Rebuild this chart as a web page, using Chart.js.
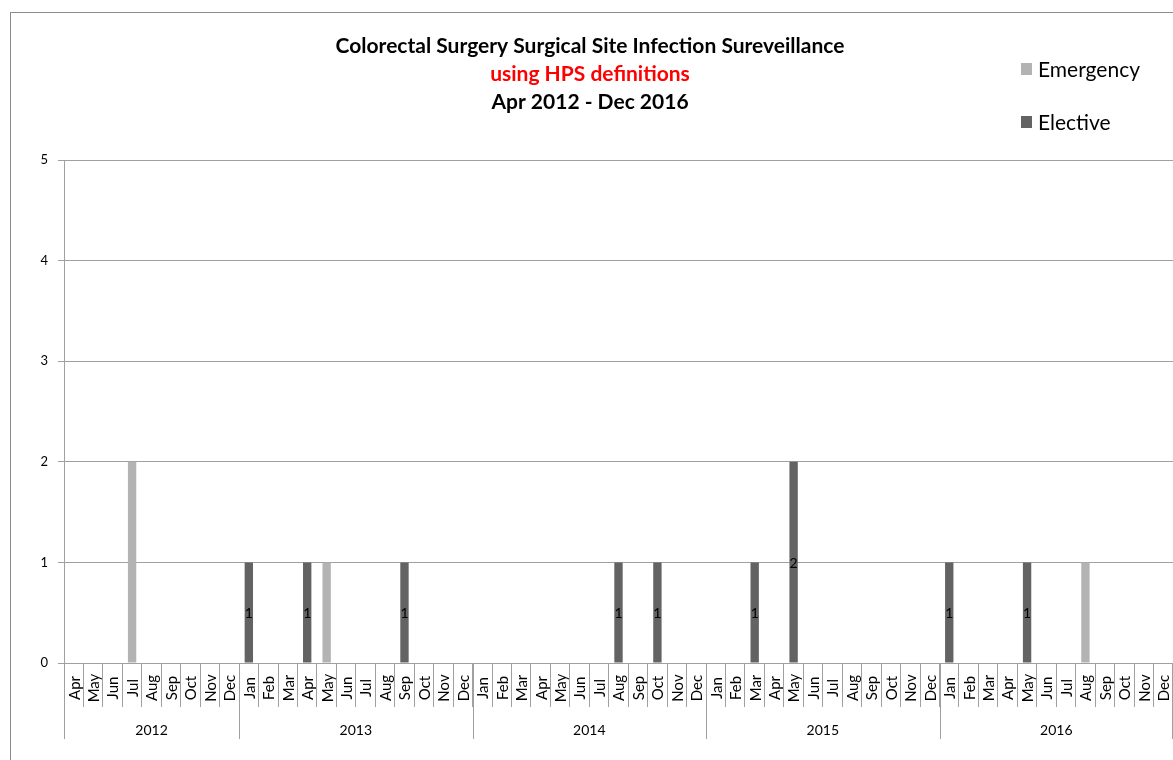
<!DOCTYPE html>
<html>
<head>
<meta charset="utf-8">
<script src="https://cdn.jsdelivr.net/npm/chart.js@4.4.0/dist/chart.umd.min.js"></script>
<style>
  html, body { margin: 0; padding: 0; background: #fff; }
  #wrap { width: 1173px; height: 760px; }
</style>
</head>
<body>
<div id="wrap"><canvas id="c" width="1173" height="760"></canvas></div>
<script>
// month categories, Apr 2012 .. Dec 2016
var monthLabels = [
  'Apr','May','Jun','Jul','Aug','Sep','Oct','Nov','Dec',
  'Jan','Feb','Mar','Apr','May','Jun','Jul','Aug','Sep','Oct','Nov','Dec',
  'Jan','Feb','Mar','Apr','May','Jun','Jul','Aug','Sep','Oct','Nov','Dec',
  'Jan','Feb','Mar','Apr','May','Jun','Jul','Aug','Sep','Oct','Nov','Dec',
  'Jan','Feb','Mar','Apr','May','Jun','Jul','Aug','Sep','Oct','Nov','Dec'
];
var years = ['2012', '2013', '2014', '2015', '2016'];
var monthsInYear = [9, 12, 12, 12, 12];

var emergency = [
  0,0,0,2,0,0,0,0,0,
  0,0,0,0,1,0,0,0,0,0,0,0,
  0,0,0,0,0,0,0,0,0,0,0,0,
  0,0,0,0,0,0,0,0,0,0,0,0,
  0,0,0,0,0,0,0,1,0,0,0,0
];
var elective = [
  0,0,0,0,0,0,0,0,0,
  1,0,0,1,0,0,0,0,1,0,0,0,
  0,0,0,0,0,0,0,1,0,1,0,0,
  0,0,1,0,2,0,0,0,0,0,0,0,
  1,0,0,0,1,0,0,0,0,0,0,0
];
var yTicks = [0, 1, 2, 3, 4, 5];

var titleLines = [
  { text: 'Colorectal Surgery Surgical Site Infection Sureveillance', color: '#000' },
  { text: 'using HPS definitions', color: '#ff0000' },
  { text: 'Apr 2012 - Dec 2016', color: '#000' }
];

var FONT = 'Lato, "Liberation Sans", sans-serif';
var gridColor = '#a0a0a0';

// draws border, titles, legend, month / year axis labels and bar values
var decor = {
  id: 'decor',
  beforeDraw: function(chart) {
    var ctx = chart.ctx;
    ctx.save();
    ctx.fillStyle = '#fff';
    ctx.fillRect(0, 0, chart.width, chart.height);
    ctx.strokeStyle = '#8c8c8c';
    ctx.lineWidth = 1;
    ctx.strokeRect(10.5, 12.5, chart.width + 20, chart.height + 20);
    ctx.restore();
  },
  afterDraw: function(chart) {
    var ctx = chart.ctx;
    var xs = chart.scales.x;
    var area = chart.chartArea;
    ctx.save();

    // titles
    ctx.font = 'bold 21px ' + FONT;
    ctx.textAlign = 'center';
    ctx.textBaseline = 'middle';
    for (var t = 0; t < titleLines.length; t++) {
      ctx.fillStyle = titleLines[t].color;
      ctx.fillText(titleLines[t].text, 590, 46 + t * 28);
    }

    // legend
    ctx.font = '21px ' + FONT;
    ctx.textAlign = 'left';
    var legendY = [69, 122];
    for (var d = 0; d < chart.data.datasets.length; d++) {
      var ds = chart.data.datasets[d];
      ctx.fillStyle = ds.backgroundColor;
      ctx.fillRect(1021, legendY[d] - 6, 11, 12);
      ctx.fillStyle = '#000';
      ctx.fillText(ds.label, 1038, legendY[d] + 1);
    }

    // month labels (rotated)
    ctx.font = '15px ' + FONT;
    ctx.fillStyle = '#000';
    ctx.textAlign = 'center';
    for (var i = 0; i < monthLabels.length; i++) {
      var px = xs.getPixelForValue(i);
      ctx.save();
      ctx.translate(px, area.bottom + 25);
      ctx.rotate(-Math.PI / 2);
      ctx.fillText(monthLabels[i], 0, 1);
      ctx.restore();
    }

    // year separators + labels
    var half = (xs.getPixelForValue(1) - xs.getPixelForValue(0)) / 2;
    ctx.strokeStyle = gridColor;
    ctx.lineWidth = 1;
    var start = 0;
    for (var y = 0; y <= years.length; y++) {
      var edge = y < years.length ? start : monthLabels.length;
      var ex = Math.round(xs.getPixelForValue(edge) - half) + 0.5;
      if (edge === monthLabels.length) ex = Math.round(xs.getPixelForValue(edge - 1) + half) - 0.5;
      ctx.beginPath();
      ctx.moveTo(ex, area.bottom);
      ctx.lineTo(ex, area.bottom + 76);
      ctx.stroke();
      if (y < years.length) {
        var mid = (xs.getPixelForValue(start) + xs.getPixelForValue(start + monthsInYear[y] - 1)) / 2;
        ctx.font = '14px ' + FONT;
        ctx.fillStyle = '#000';
        ctx.fillText(years[y], mid, area.bottom + 67);
        start += monthsInYear[y];
      }
    }

    // values inside elective bars
    var meta = chart.getDatasetMeta(1);
    ctx.font = '14px ' + FONT;
    ctx.fillStyle = '#000';
    meta.data.forEach(function(bar, k) {
      if (!elective[k]) return;
      ctx.fillText(String(elective[k]), bar.x, (bar.y + bar.base) / 2 + 1);
    });

    ctx.restore();
  }
};

new Chart(document.getElementById('c'), {
  type: 'bar',
  data: {
    labels: monthLabels,
    datasets: [
      { label: 'Emergency', data: emergency, backgroundColor: '#b3b3b3' },
      { label: 'Elective', data: elective, backgroundColor: '#636363' }
    ]
  },
  options: {
    responsive: false,
    animation: false,
    layout: { padding: { top: 160, left: 0, right: 0, bottom: 0 } },
    categoryPercentage: 1,
    barPercentage: 0.43,
    plugins: {
      legend: { display: false },
      title: { display: false },
      tooltip: { enabled: false }
    },
    scales: {
      x: {
        stacked: true,
        offset: true,
        grid: {
          offset: true,
          drawOnChartArea: false,
          color: gridColor,
          tickLength: 44
        },
        border: { color: gridColor },
        ticks: { display: false },
        afterFit: function(scale) { scale.height = 97; }
      },
      y: {
        stacked: true,
        min: 0,
        max: 5,
        afterBuildTicks: function(scale) {
          scale.ticks = yTicks.map(function(v) { return { value: v }; });
        },
        grid: { color: gridColor, tickLength: 6 },
        border: { color: gridColor },
        ticks: {
          font: { family: FONT, size: 13 },
          color: '#000',
          padding: 10
        },
        afterFit: function(scale) { scale.width = 64; }
      }
    }
  },
  plugins: [decor]
});
</script>
</body>
</html>
